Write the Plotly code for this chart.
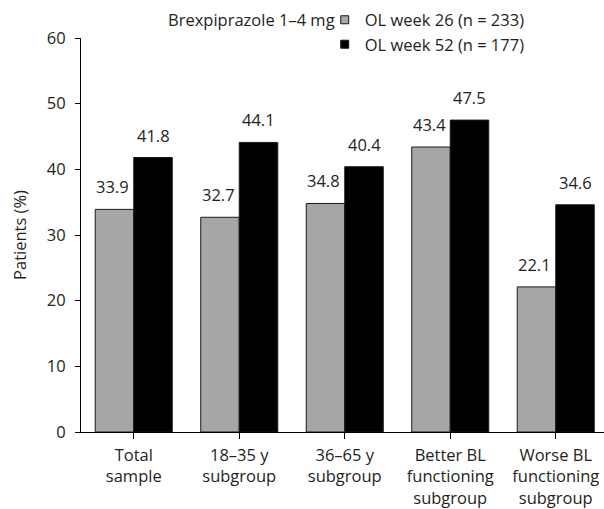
import plotly.graph_objects as go

categories = ["Total<br>sample", "18\u201335 y<br>subgroup", "36\u201365 y<br>subgroup",
              "Better BL<br>functioning<br>subgroup", "Worse BL<br>functioning<br>subgroup"]
week26 = [33.9, 32.7, 34.8, 43.4, 22.1]
week52 = [41.8, 44.1, 40.4, 47.5, 34.6]
series_names = ["OL week 26 (n = 233)", "OL week 52 (n = 177)"]
legend_title = "Brexpiprazole 1\u20134 mg"
y_title = "Patients (%)"
colors = ["#a6a6a6", "#000000"]

FONT = "Open Sans"
FS = 16.5
TXT = "#231f20"

fig = go.Figure()
xs = list(range(len(categories)))
for vals, name, col in zip([week26, week52], series_names, colors):
    fig.add_trace(go.Bar(x=xs, y=vals, name=name, marker=dict(color=col, line=dict(color="#1a1a1a", width=1)),
                         showlegend=False, hoverinfo="skip"))
    fig.add_trace(go.Scatter(x=[None], y=[None], mode="markers", name=name, hoverinfo="skip",
                             marker=dict(symbol="square", size=8, color=col, line=dict(color="#1a1a1a", width=1))))

# value labels
bar_half = 19.3
for vals, shift in [(week26, -bar_half - 1.5), (week52, bar_half)]:
    for i, v in enumerate(vals):
        fig.add_annotation(x=i, y=v, text=f"{v:.1f}", showarrow=False, xshift=shift, yshift=9,
                           yanchor="bottom", font=dict(family=FONT, size=FS, color=TXT))

fig.add_annotation(x=0.490, y=1.046, xref="paper", yref="paper", xanchor="right", yanchor="middle",
                   text=legend_title, showarrow=False, font=dict(family=FONT, size=FS, color=TXT))

fig.update_layout(
    width=604, height=509,
    margin=dict(l=81, r=0, t=38, b=77, autoexpand=False),
    plot_bgcolor="white", paper_bgcolor="white",
    barmode="group", bargap=0.27, bargroupgap=0,
    font=dict(family=FONT, size=FS, color=TXT),
    hovermode=False,
    legend=dict(x=0.466, y=1.09, xanchor="left", yanchor="top", bgcolor="rgba(0,0,0,0)",
                font=dict(family=FONT, size=FS, color=TXT), itemwidth=30, tracegroupgap=0),
    xaxis=dict(range=[-0.5, -0.5 + 523 / 105.5], tickvals=xs, ticktext=categories, automargin=False,
               showline=True, linecolor="black", linewidth=1, ticks="outside", tickson="boundaries",
               ticklen=6, tickcolor="black", showgrid=False, zeroline=False, ticklabelstandoff=2),
    yaxis=dict(range=[0, 60], dtick=10, showline=True, linecolor="black", linewidth=1, automargin=False,
               ticks="outside", ticklen=5, tickcolor="black", showgrid=False, zeroline=False,
               ticklabelstandoff=6,
               title=dict(text=y_title, standoff=16, font=dict(family=FONT, size=FS, color=TXT))),
)

fig.write_html("out.html", config={"displayModeBar": False},
               post_script="document.body.style.margin='0';document.body.style.overflow='hidden';")
